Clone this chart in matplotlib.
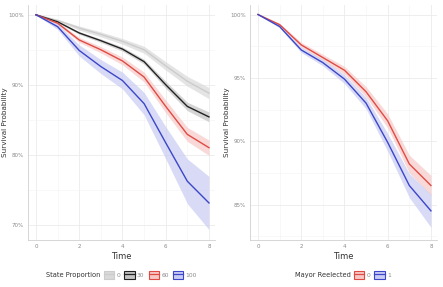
import matplotlib.pyplot as plt
from matplotlib.patches import Patch
from matplotlib.lines import Line2D
from matplotlib.ticker import MultipleLocator, PercentFormatter
import numpy as np

time = [0, 1, 2, 3, 4, 5, 6, 7, 8]

# left panel: survival by state proportion (%)
state_labels = ["0", "30", "60", "100"]
state_mean = [
    [100, 99.2, 98.1, 97.2, 96.2, 95.0, 92.7, 90.5, 88.8],
    [100, 99.0, 97.4, 96.3, 95.1, 93.3, 90.0, 86.9, 85.4],
    [100, 98.8, 96.4, 95.0, 93.4, 91.1, 86.9, 82.9, 81.0],
    [100, 98.3, 94.9, 92.6, 90.6, 87.3, 81.7, 76.2, 73.1],
]
state_half = [
    [0, 0.15, 0.3, 0.35, 0.4, 0.5, 0.6, 0.7, 0.8],
    [0, 0.1, 0.2, 0.25, 0.3, 0.35, 0.5, 0.6, 0.7],
    [0, 0.2, 0.35, 0.45, 0.55, 0.7, 0.9, 1.0, 1.1],
    [0, 0.4, 0.8, 1.0, 1.2, 1.6, 2.3, 3.2, 3.8],
]
state_colors = ["#cccccc", "#222222", "#e04a44", "#3b46c9"]
state_fill = ["#d9d9d9", "#c4c4c4", "#f7c9c6", "#c9cdf3"]

# right panel: survival by mayor reelected (%)
mayor_labels = ["0", "1"]
mayor_mean = [
    [100, 99.2, 97.6, 96.6, 95.6, 93.9, 91.6, 88.2, 86.5],
    [100, 99.05, 97.2, 96.2, 94.9, 93.0, 89.9, 86.5, 84.5],
]
mayor_half = [
    [0, 0.1, 0.2, 0.25, 0.3, 0.4, 0.55, 0.7, 0.8],
    [0, 0.1, 0.2, 0.25, 0.35, 0.45, 0.7, 0.95, 1.3],
]
mayor_colors = ["#e04a44", "#3b46c9"]
mayor_fill = ["#f7c9c6", "#c9cdf3"]

W, H = 443, 287
fig = plt.figure(figsize=(W / 100, H / 100), dpi=100)
fig.patch.set_facecolor("white")

ax1 = fig.add_axes([28 / W, 1 - 240 / H, (215 - 28) / W, 235 / H])
ax2 = fig.add_axes([250 / W, 1 - 240 / H, (437 - 250) / W, 235 / H])


def style(ax, ylim, major, minor):
    ax.set_xlim(-0.37, 8.28)
    ax.set_ylim(*ylim)
    ax.xaxis.set_major_locator(MultipleLocator(2))
    ax.xaxis.set_minor_locator(MultipleLocator(1))
    ax.yaxis.set_major_locator(MultipleLocator(major))
    ax.yaxis.set_minor_locator(MultipleLocator(minor))
    ax.yaxis.set_major_formatter(PercentFormatter(decimals=0))
    ax.grid(which="major", color="#ebebeb", lw=0.6)
    ax.grid(which="minor", color="#f3f3f3", lw=0.4)
    ax.set_axisbelow(True)
    for s in ["top", "right"]:
        ax.spines[s].set_visible(False)
    for s in ["left", "bottom"]:
        ax.spines[s].set_color("#d0d0d0")
        ax.spines[s].set_linewidth(0.6)
    ax.tick_params(which="both", length=0, labelsize=4.0, colors="#8a8a8a", pad=3)
    ax.set_xlabel("Time", fontsize=6, color="#333333", labelpad=2)
    ax.set_ylabel("Survival Probability", fontsize=5.2, color="#333333")
    ax.yaxis.set_label_coords(-0.108, 0.5)


for m, h, c, f in zip(state_mean, state_half, state_colors, state_fill):
    m = np.array(m); h = np.array(h)
    ax1.fill_between(time, m - h, m + h, color=f, alpha=0.7, lw=0)
for m, c in zip(state_mean, state_colors):
    ax1.plot(time, m, color=c, lw=1.0)
style(ax1, (67.8, 101.4), 10, 5)

for m, h, c, f in zip(mayor_mean, mayor_half, mayor_colors, mayor_fill):
    m = np.array(m); h = np.array(h)
    ax2.fill_between(time, m - h, m + h, color=f, alpha=0.7, lw=0)
for m, c in zip(mayor_mean, mayor_colors):
    ax2.plot(time, m, color=c, lw=1.0)
style(ax2, (82.2, 100.75), 5, 2.5)


def make_legend(title, labels, colors, fills, title_end, leg_x):
    fig.text(title_end / W, 1 - 275 / H, title, fontsize=4.8, color="#333333",
             va="center", ha="right")
    handles = [(Patch(facecolor=f, edgecolor=c, lw=0.8),
                Line2D([], [], color=c, lw=0.9)) for c, f in zip(colors, fills)]
    fig.legend(handles, labels, loc="center left",
               bbox_to_anchor=(leg_x / W, 1 - 275 / H), ncol=len(labels),
               frameon=False, fontsize=4.3, handlelength=1.7, handleheight=1.8,
               handletextpad=0.4, columnspacing=0.7, borderpad=0,
               borderaxespad=0, labelcolor="#8a8a8a")


make_legend("State Proportion", state_labels, state_colors, state_fill, 100, 104)
make_legend("Mayor Reelected", mayor_labels, mayor_colors, mayor_fill, 351, 354)

fig.savefig("out.png", dpi=100)
